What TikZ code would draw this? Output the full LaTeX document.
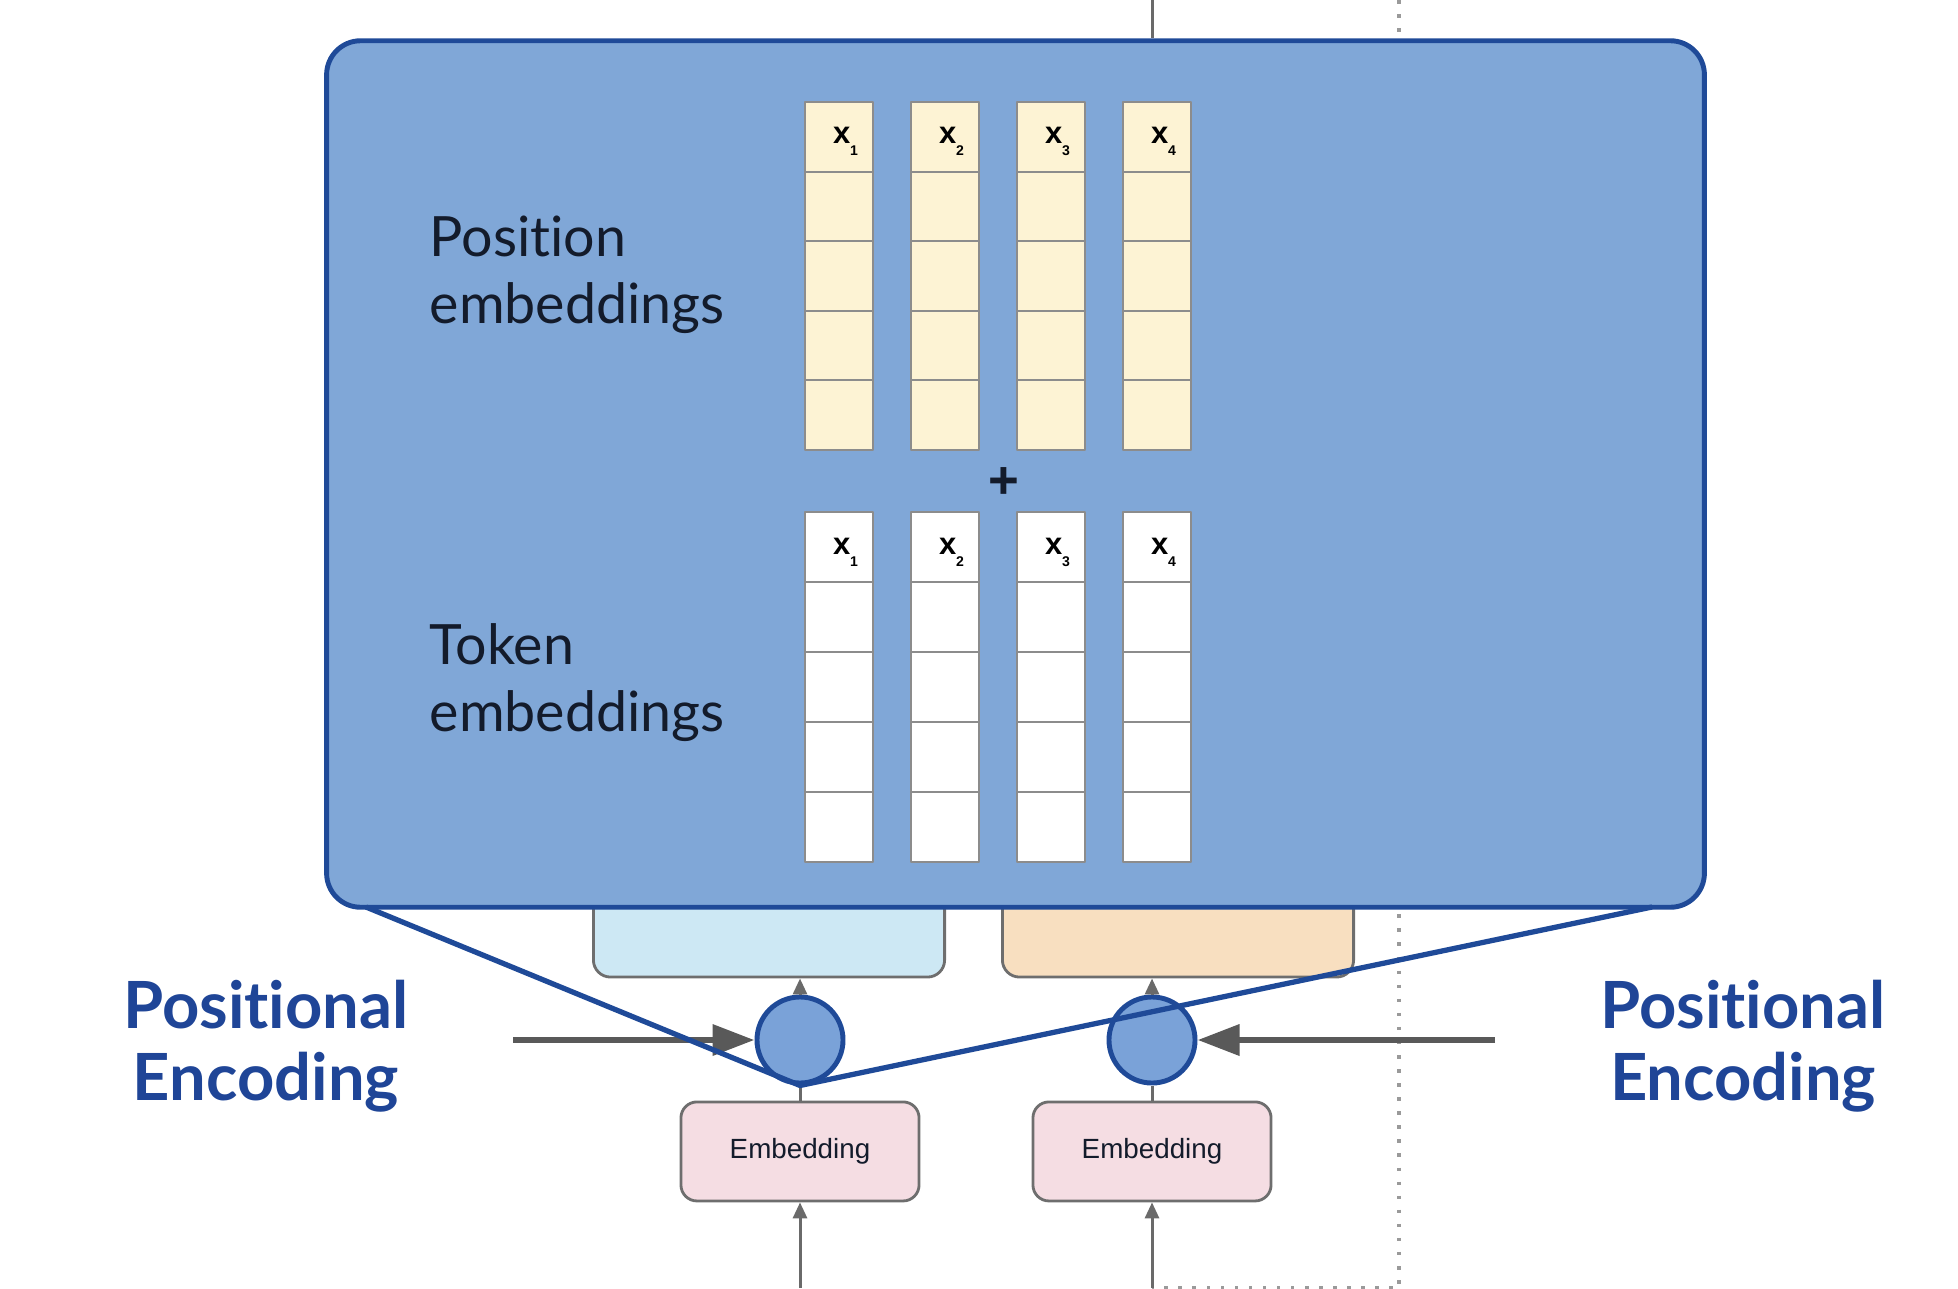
\documentclass[tikz,border=0pt]{standalone}
\usepackage{fontspec}
\setsansfont{Liberation Sans}
\newfontfamily\latofont[Ligatures=NoCommon]{Lato}
\usetikzlibrary{arrows.meta,positioning}

\definecolor{zoomblue}{HTML}{80A7D7}
\definecolor{navy}{HTML}{1F4A98}
\definecolor{dotblue}{HTML}{7AA2D8}
\definecolor{titleblue}{HTML}{1F4597}
\definecolor{inkdark}{HTML}{131B2B}
\definecolor{posfill}{HTML}{FDF3D4}
\definecolor{cellgray}{HTML}{8C8C8C}
\definecolor{skyfill}{HTML}{CDE8F4}
\definecolor{peachfill}{HTML}{F8DFC0}
\definecolor{pinkfill}{HTML}{F5DDE3}
\definecolor{boxgray}{HTML}{6E6E6E}
\definecolor{arrowgray}{HTML}{595959}
\definecolor{linegray}{HTML}{6A6A6A}
\definecolor{dotgray}{HTML}{9A9A9A}

\begin{document}
\begin{tikzpicture}[x=0.01cm,y=-0.01cm,line join=round,
  cell/.style={draw=cellgray,line width=0.6pt,minimum width=0.68cm,minimum height=0.696cm,inner sep=0pt},
  poscell/.style={cell,fill=posfill},
  tokcell/.style={cell,fill=white,minimum height=0.70cm},
  xlab/.style={inner sep=0pt,font=\sffamily\bfseries\fontsize{8.8}{9}\selectfont,xshift=0.065cm,yshift=-0.05cm},
  sidetext/.style={inner sep=0pt,align=left,anchor=west,text=inkdark,font=\latofont\fontsize{15.8}{19}\selectfont},
  pelabel/.style={inner sep=0pt,align=center,text=titleblue,font=\latofont\bfseries\fontsize{18.5}{20.3}\selectfont},
  layerbox/.style={draw=boxgray,line width=0.8pt,rounded corners=0.17cm,minimum width=3.51cm,minimum height=1.6cm},
  embbox/.style={draw=boxgray,line width=0.8pt,fill=pinkfill,rounded corners=0.16cm,minimum width=2.38cm,minimum height=0.99cm,font=\sffamily\fontsize{7.9}{8}\selectfont,text=inkdark},
  addnode/.style={circle,draw=navy,line width=1.4pt,fill=dotblue,minimum size=0.86cm,inner sep=0pt},
  feed/.style={draw=linegray,line width=0.85pt},
  feedarrow/.style={feed,-{Triangle[length=0.16cm,width=0.14cm]}},
  pearrow/.style={draw=arrowgray,line width=1.9pt,-{Triangle[length=0.42cm,width=0.30cm]}},
  zoomline/.style={draw=navy,line width=1.5pt},
  dotline/.style={draw=dotgray,line width=1.1pt,dash pattern=on 1pt off 3pt}]
 % \draw[help lines] (0,0) grid (1958,1288);
  \useasboundingbox (0,0) rectangle (1958,1288);
  \coordinate (dt) at (1399,0);
  \coordinate (b1) at (800,1288);
  \coordinate (b2) at (1152,1288);
  \draw[dotline] (dt) -- (dt |- b2) -- (b2);

  \node[layerbox,fill=skyfill] (sky) at (769,897) {};
  \node[layerbox,fill=peachfill] (peach) at (1178,897) {};
  \node[draw=navy,line width=1.4pt,fill=zoomblue,rounded corners=0.34cm,
        minimum width=13.77cm,minimum height=8.66cm] (zoom) at (1015.5,474) {};
  \coordinate (tp) at (1152,0);
  \draw[feed] (tp) -- (tp |- zoom.north);

  \node[sidetext] (posname) at (429,275) {Position\\embeddings};
  \node[sidetext] (tokname) at (429,683) {Token\\embeddings};
  \foreach \i in {1,...,4} {
    \foreach \j in {1,...,5} {
      \node[poscell] (p\i\j) at ({839+106*(\i-1)},{136.8+69.6*(\j-1)}) {};
      \node[tokcell] (t\i\j) at ({839+106*(\i-1)},{547+70*(\j-1)}) {};
    }
    \node[xlab] (px\i) at (p\i1) {x\raisebox{-3.4pt}{\fontsize{4}{4}\selectfont\i}};
    \node[xlab] (tx\i) at (t\i1) {x\raisebox{-3.4pt}{\fontsize{4}{4}\selectfont\i}};
  }
  \node[inner sep=0pt,text=inkdark,font=\sffamily\bfseries\fontsize{15}{15}\selectfont] (plus) at (1004,483) {+};

  \node[addnode] (c1) at (800,1040) {};
  \node[addnode] (c2) at (1152,1040) {};
  \node[embbox,below=0.15cm of c1] (emb1) {Embedding};
  \node[embbox,below=0.15cm of c2] (emb2) {Embedding};
  \node[pelabel] (peleft) at (266,1046) {Positional\\Encoding};
  \node[pelabel] (peright) at (1743,1046) {Positional\\Encoding};

  \coordinate (pl) at (513,1040);
  \coordinate (pr) at (1495,1040);
  \draw[feedarrow] (c1) -- (c1 |- sky.south);
  \draw[feedarrow] (c2) -- (c2 |- peach.south);
  \draw[feed] (c1) -- (emb1);
  \draw[feed] (c2) -- (emb2);
  \draw[feedarrow] (b1) -- (emb1);
  \draw[feedarrow] (b2) -- (emb2);
  \draw[pearrow] (pl) -- (c1);
  \draw[pearrow] (pr) -- (c2);

  \coordinate (zl) at (366,907);
  \coordinate (zr) at (1652,907);
  \draw[zoomline] (zl) -- (c1.south) -- (zr);
\end{tikzpicture}
\end{document}
